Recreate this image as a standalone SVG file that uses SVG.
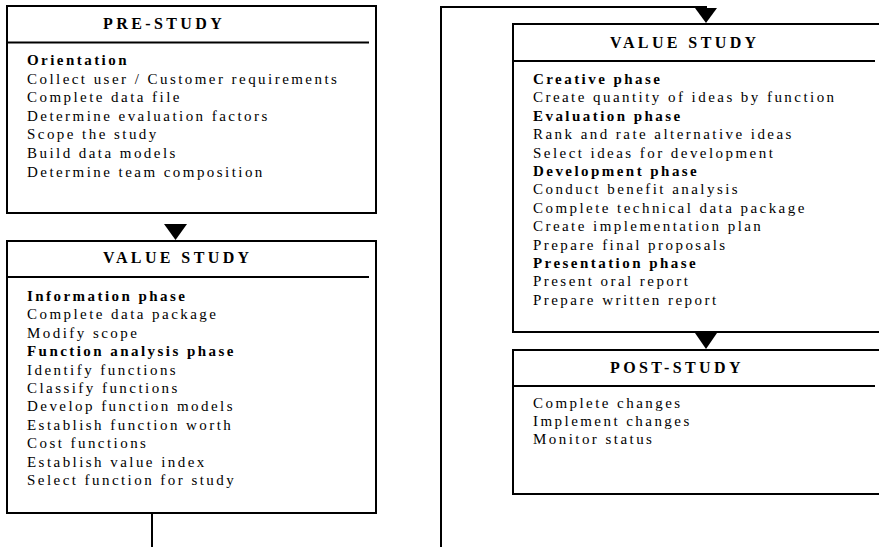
<svg xmlns="http://www.w3.org/2000/svg" width="879" height="547" viewBox="0 0 879 547">
<style>
.box{fill:#fff;stroke:#000;stroke-width:2}
.sep{stroke:#000;stroke-width:2}
.title{font-family:"Liberation Serif","DejaVu Serif",serif;font-weight:bold;font-size:16px;letter-spacing:3.4px;fill:#000}
.t{font-family:"Liberation Serif","DejaVu Serif",serif;font-size:15px;letter-spacing:2.45px;fill:#000}
.b{font-weight:bold}
.con{stroke:#000;stroke-width:2;fill:none}
.head{fill:#000}
</style>
<rect width="879" height="547" fill="#fff"/>
<g id="connectors">
<polygon class="head" points="164,224 187,224 175.5,240"/>
<line class="con" x1="152" y1="513" x2="152" y2="547"/>
<polyline class="con" points="441,547 441,7 706,7 706,12"/>
<polygon class="head" points="695,8 717,8 706,23"/>
<line class="con" x1="706" y1="332" x2="706" y2="336"/>
<polygon class="head" points="695,333 717,333 706,349"/>
</g>
<g id="pre-study">
<rect class="box" x="7" y="6" width="369" height="207"/>
<line class="sep" x1="7" y1="42.5" x2="369" y2="42.5"/>
<text class="title" x="103" y="29">PRE-STUDY</text>
<text class="t b" x="27" y="65">Orientation</text>
<text class="t" x="27" y="83.6">Collect user / Customer requirements</text>
<text class="t" x="27" y="102.2">Complete data file</text>
<text class="t" x="27" y="120.8">Determine evaluation factors</text>
<text class="t" x="27" y="139.4">Scope the study</text>
<text class="t" x="27" y="158">Build data models</text>
<text class="t" x="27" y="176.6">Determine team composition</text>
</g>
<g id="value-study-1">
<rect class="box" x="7" y="241" width="369" height="272"/>
<line class="sep" x1="7" y1="277" x2="369" y2="277"/>
<text class="title" x="103" y="263">VALUE STUDY</text>
<text class="t b" x="27" y="301">Information phase</text>
<text class="t" x="27" y="319.4">Complete data package</text>
<text class="t" x="27" y="337.8">Modify scope</text>
<text class="t b" x="27" y="356.2">Function analysis phase</text>
<text class="t" x="27" y="374.6">Identify functions</text>
<text class="t" x="27" y="393">Classify functions</text>
<text class="t" x="27" y="411.4">Develop function models</text>
<text class="t" x="27" y="429.8">Establish function worth</text>
<text class="t" x="27" y="448.2">Cost functions</text>
<text class="t" x="27" y="466.6">Establish value index</text>
<text class="t" x="27" y="485">Select function for study</text>
</g>
<g id="value-study-2">
<rect class="box" x="513" y="24" width="372" height="308"/>
<line class="sep" x1="513" y1="61" x2="875" y2="61"/>
<text class="title" x="610" y="48">VALUE STUDY</text>
<text class="t b" x="533" y="84">Creative phase</text>
<text class="t" x="533" y="102.4">Create quantity of ideas by function</text>
<text class="t b" x="533" y="120.8">Evaluation phase</text>
<text class="t" x="533" y="139.2">Rank and rate alternative ideas</text>
<text class="t" x="533" y="157.6">Select ideas for development</text>
<text class="t b" x="533" y="176">Development phase</text>
<text class="t" x="533" y="194.4">Conduct benefit analysis</text>
<text class="t" x="533" y="212.8">Complete technical data package</text>
<text class="t" x="533" y="231.2">Create implementation plan</text>
<text class="t" x="533" y="249.6">Prepare final proposals</text>
<text class="t b" x="533" y="268">Presentation phase</text>
<text class="t" x="533" y="286.4">Present oral report</text>
<text class="t" x="533" y="304.8">Prepare written report</text>
</g>
<g id="post-study">
<rect class="box" x="513" y="350" width="372" height="144"/>
<line class="sep" x1="513" y1="386" x2="875" y2="386"/>
<text class="title" x="610" y="373">POST-STUDY</text>
<text class="t" x="533" y="408">Complete changes</text>
<text class="t" x="533" y="426.2">Implement changes</text>
<text class="t" x="533" y="444.4">Monitor status</text>
</g>
</svg>
